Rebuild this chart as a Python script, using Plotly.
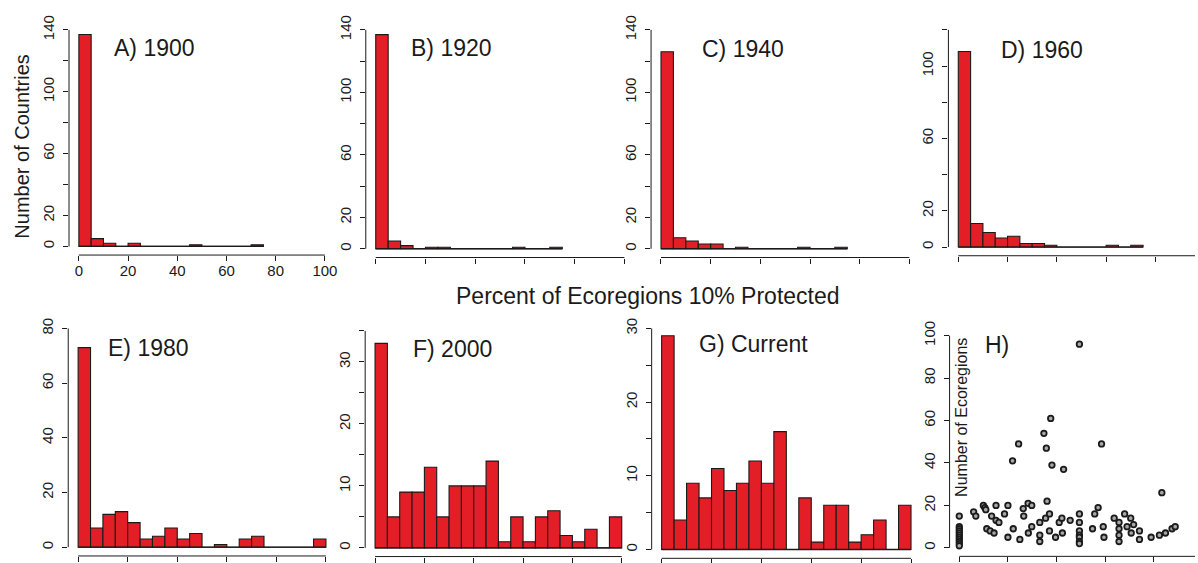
import numpy as np
import plotly.graph_objects as go

# ---------------- data ----------------
bin_width = 5
hist_1900 = [137, 5, 2, 0, 2, 0, 0, 0, 0, 1, 0, 0, 0, 0, 1]
hist_1920 = [137, 5, 2, 0, 1, 1, 0, 0, 0, 0, 0, 1, 0, 0, 1]
hist_1940 = [126, 7, 5, 3, 3, 0, 1, 0, 0, 0, 0, 1, 0, 0, 1]
hist_1960 = [108, 13, 8, 5, 6, 2, 2, 1, 0, 0, 0, 0, 1, 0, 1]
hist_1980 = [73, 7, 12, 13, 9, 3, 4, 7, 3, 5, 0, 1, 0, 3, 4, 0, 0, 0, 0, 3]
hist_2000 = [33, 5, 9, 9, 13, 5, 10, 10, 10, 14, 1, 5, 1, 5, 6, 2, 1, 3, 0, 5]
hist_current = [29, 4, 9, 7, 11, 8, 9, 12, 9, 16, 0, 7, 1, 6, 6, 1, 2, 4, 0, 6]

panel_labels = ["A) 1900", "B) 1920", "C) 1940", "D) 1960",
                "E) 1980", "F) 2000", "G) Current", "H)"]

# H) scatter: percent of ecoregions 10% protected vs number of ecoregions
eco_pct = [0, 0, 0, 0, 0, 0, 0, 0, 0, 0, 0,
           5.9, 6.8, 9.9, 10.5, 10.9, 11.3, 12.7, 14.3, 13.3, 15.1, 16.3, 15.1,
           18.6, 20, 20, 21.9, 22.2, 24.4, 24.9, 26.3, 26.5, 28.3, 29.8, 28.4, 29.8,
           33.1, 33.1, 33.1, 34.8, 35.8, 36.1, 35.5, 37.6, 37.1, 37.1, 38.1, 39.6,
           41.1, 42.2, 42.4, 42.9, 45.6,
           49.4, 49.4, 49.4, 49.4, 49.4, 49.4, 49.4, 49.4,
           54.8, 55.7, 57.1, 58.5, 59.2, 59.5,
           63.7, 65.7, 65.7, 65.7, 65.7, 68, 69, 70.5, 71.7, 70.7, 74.1, 74.1,
           78.9, 82.3, 83.3, 84.8, 87.5, 88.8]
eco_count = [15, 10, 9, 8, 7, 6, 5, 4, 3, 2, 1,
             17, 15, 20, 19, 18, 9, 8, 7, 15, 13, 12, 20,
             16, 20, 5, 41, 9, 49, 4, 18.5, 15, 21, 20, 7, 10,
             12, 6, 3, 54, 47, 22, 14, 61, 16, 8, 39, 5,
             12, 14, 7, 37, 13,
             96, 16, 12, 8, 6, 5, 3, 2,
             9, 16, 19, 49, 10, 5,
             14, 12, 9, 6, 3, 16, 10, 14, 11, 7, 8, 4,
             5, 6, 26, 7, 9, 10]

x_ticks = [0, 20, 40, 60, 80, 100]

# ---------------- styling / layout ----------------
W, H = 1198, 563
FONT = "Liberation Sans, Arial, Helvetica, sans-serif"
RED = "#E41E26"
INK = "#1a1a1a"

# pixel boxes of each R plot region: (left, right, top, bottom), x-range, y-range
panels = [
    dict(box=(69.2, 335.6, 15.5, 253.1), xr=[-4, 104], yr=[-5.6, 145.6], ymax=140,
         yt=[0, 20, 40, 60, 80, 100, 120, 140], ylab=["0", "20", "", "60", "", "100", "", "140"],
         lab=(155, 43), data=hist_1900),
    dict(box=(366.7, 636.0, 15.4, 255.6), xr=[-4, 104], yr=[-5.6, 145.6], ymax=140,
         yt=[0, 20, 40, 60, 80, 100, 120, 140], ylab=["0", "20", "", "60", "", "100", "", "140"],
         lab=(453, 43), data=hist_1920),
    dict(box=(652.7, 921.6, 15.4, 255.6), xr=[-4, 104], yr=[-5.6, 145.6], ymax=140,
         yt=[0, 20, 40, 60, 80, 100, 120, 140], ylab=["0", "20", "", "60", "", "100", "", "140"],
         lab=(745, 44), data=hist_1940),
    dict(box=(950.8, 1198, 15.4, 253.8), xr=[-4, 96.07], yr=[-4.8, 124.8], ymax=120,
         yt=[0, 20, 40, 60, 80, 100, 120], ylab=["0", "20", "", "60", "", "100", ""],
         lab=(1045, 45), data=hist_1960),
    dict(box=(68.4, 336.7, 318.8, 558.9), xr=[-4, 104], yr=[-3.2, 83.2], ymax=80,
         yt=[0, 20, 40, 60, 80], ylab=["0", "20", "40", "60", "80"],
         lab=(149, 348), data=hist_1980),
    dict(box=(366.1, 633.2, 321.4, 559.5), xr=[-4, 104], yr=[-1.4, 36.4], ymax=35,
         yt=[0, 5, 10, 15, 20, 25, 30, 35], ylab=["0", "", "10", "", "20", "", "30", ""],
         lab=(454, 349), data=hist_2000),
    dict(box=(653.3, 923.3, 318.7, 561.3), xr=[-4, 104], yr=[-1.2, 31.2], ymax=30,
         yt=[0, 5, 10, 15, 20, 25, 30], ylab=["0", "", "10", "", "20", "", "30"],
         lab=(755, 343), data=hist_current),
    dict(box=(951.95, 1198, 326.4, 559.3), xr=[-4, 96.94], yr=[-4, 104], ymax=100,
         yt=[0, 20, 40, 60, 80, 100], ylab=["0", "20", "40", "60", "80", "100"],
         lab=(1000, 345), data=None),
]

fig = go.Figure()
shapes = []
annotations = []

for i, p in enumerate(panels):
    k = "" if i == 0 else str(i + 1)
    xa, ya = "x" + k, "y" + k
    l, r, t, b = p["box"]

    if p["data"] is not None:
        counts = p["data"]
        edges = np.arange(len(counts) + 1) * bin_width
        centers = edges[:-1] + bin_width / 2
        # zero-height baseline of the histogram (R draws empty bins as a line)
        fig.add_trace(go.Scatter(x=[edges[0], edges[-1]], y=[0, 0], mode="lines",
                                 line=dict(color=INK, width=1.3), xaxis=xa, yaxis=ya,
                                 showlegend=False, hoverinfo="skip"))
        fig.add_trace(go.Bar(x=centers, y=counts, width=bin_width,
                             marker=dict(color=RED, line=dict(color=INK, width=1.1)),
                             xaxis=xa, yaxis=ya, showlegend=False))
    else:
        fig.add_trace(go.Scatter(x=eco_pct, y=eco_count, mode="markers",
                                 marker=dict(symbol="circle", size=5.5, color="#a8a8a8",
                                             line=dict(color=INK, width=1.8)),
                                 xaxis=xa, yaxis=ya, showlegend=False))

    xdict = dict(domain=[l / W, r / W], range=p["xr"], anchor=ya,
                 showgrid=False, zeroline=False, showline=False,
                 ticks="outside", ticklen=5, tickwidth=1, tickcolor=INK,
                 tickvals=x_ticks, ticktext=[str(v) for v in x_ticks],
                 showticklabels=(i == 0), ticklabelstandoff=-3,
                 tickfont=dict(family=FONT, size=15, color=INK))
    ydict = dict(domain=[1 - b / H, 1 - t / H], range=p["yr"], anchor=xa,
                 showgrid=False, zeroline=False, showline=False,
                 ticks="outside", ticklen=5, tickwidth=1, tickcolor=INK,
                 tickvals=p["yt"], ticktext=p["ylab"], tickangle=-90,
                 ticklabelstandoff=3,
                 tickfont=dict(family=FONT, size=15, color=INK))
    fig.update_layout(**{"xaxis" + k: xdict, "yaxis" + k: ydict})

    # R-style axis lines spanning the tick range only
    shapes.append(dict(type="line", xref=xa, yref=ya + " domain",
                       x0=x_ticks[0], x1=x_ticks[-1], y0=0, y1=0,
                       line=dict(color=INK, width=1)))
    shapes.append(dict(type="line", xref=xa + " domain", yref=ya,
                       x0=0, x1=0, y0=0, y1=p["ymax"],
                       line=dict(color=INK, width=1)))

    lx, ly = p["lab"]
    annotations.append(dict(text=panel_labels[i], x=lx / W, y=1 - ly / H,
                            xref="paper", yref="paper", showarrow=False,
                            xanchor="center", yanchor="middle",
                            font=dict(family=FONT, size=23, color=INK)))

annotations.append(dict(text="Number of Countries", x=22 / W, y=1 - 142 / H,
                        xref="paper", yref="paper", showarrow=False, textangle=-90,
                        xanchor="center", yanchor="middle",
                        font=dict(family=FONT, size=20, color=INK)))
annotations.append(dict(text="Percent of Ecoregions 10% Protected", x=650 / W, y=1 - 295 / H,
                        xref="paper", yref="paper", showarrow=False,
                        xanchor="center", yanchor="middle",
                        font=dict(family=FONT, size=23, color=INK)))
annotations.append(dict(text="Number of Ecoregions", x=964 / W, y=1 - 418 / H,
                        xref="paper", yref="paper", showarrow=False, textangle=-90,
                        xanchor="center", yanchor="middle",
                        font=dict(family=FONT, size=16, color=INK)))

fig.update_layout(width=W, height=H, margin=dict(l=0, r=0, t=0, b=0),
                  paper_bgcolor="white", plot_bgcolor="white",
                  shapes=shapes, annotations=annotations, showlegend=False,
                  font=dict(family=FONT, color=INK))

fig.write_html("out.html", config={"displayModeBar": False},
               post_script="document.body.style.margin='0';document.body.style.overflow='hidden';")
